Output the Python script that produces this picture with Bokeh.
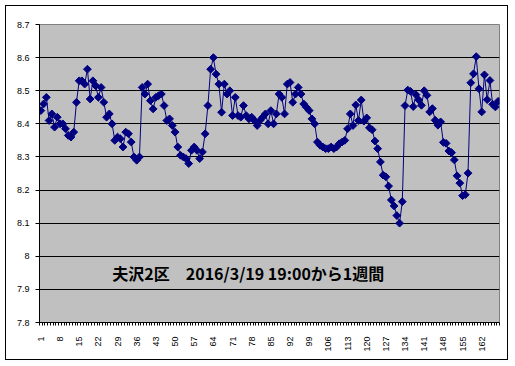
import numpy as np
from bokeh.plotting import figure
from bokeh.models import ColumnDataSource, FixedTicker, CustomJSTickFormatter, Label
from bokeh.embed import file_html
from bokeh.resources import INLINE

# hourly values, 1 week (168 points)
values = [
    8.44, 8.46, 8.48, 8.41, 8.43, 8.39, 8.42, 8.40, 8.40, 8.385,
    8.365, 8.36, 8.375, 8.465, 8.53, 8.53, 8.52, 8.565, 8.475, 8.53,
    8.515, 8.48, 8.51, 8.465, 8.42, 8.43, 8.40, 8.35, 8.36, 8.355,
    8.33, 8.375, 8.37, 8.345, 8.30, 8.29, 8.30, 8.51, 8.49, 8.52,
    8.47, 8.445, 8.48, 8.485, 8.49, 8.455, 8.41, 8.415, 8.395, 8.375,
    8.33, 8.305, 8.30, 8.295, 8.28, 8.32, 8.33, 8.32, 8.295, 8.315,
    8.37, 8.455, 8.565, 8.60, 8.55, 8.52, 8.435, 8.52, 8.49, 8.50,
    8.425, 8.48, 8.425, 8.42, 8.455, 8.425, 8.415, 8.42, 8.41, 8.395,
    8.41, 8.42, 8.43, 8.40, 8.44, 8.40, 8.43, 8.49, 8.48, 8.43,
    8.52, 8.525, 8.465, 8.49, 8.51, 8.49, 8.46, 8.45, 8.44, 8.415,
    8.40, 8.345, 8.335, 8.33, 8.325, 8.325, 8.33, 8.325, 8.33, 8.34,
    8.345, 8.35, 8.385, 8.43, 8.395, 8.457, 8.41, 8.472, 8.408, 8.418,
    8.388, 8.382, 8.348, 8.325, 8.285, 8.245, 8.24, 8.212, 8.17, 8.152,
    8.123, 8.10, 8.165, 8.455, 8.502, 8.498, 8.452, 8.488, 8.472, 8.456,
    8.50, 8.486, 8.436, 8.446, 8.411, 8.396, 8.406, 8.344, 8.341, 8.318,
    8.313, 8.291, 8.243, 8.221, 8.183, 8.186, 8.251, 8.524, 8.551, 8.603,
    8.506, 8.436, 8.548, 8.473, 8.531, 8.459, 8.451, 8.468,
]
hours = list(range(1, len(values) + 1))
x_tick_labels = list(range(1, len(values) + 1, 7))
y_ticks = [7.8, 7.9, 8.0, 8.1, 8.2, 8.3, 8.4, 8.5, 8.6, 8.7]
annotation = "夫沢2区　2016/3/19 19:00から1週間"

src = ColumnDataSource(dict(x=hours, y=values))

p = figure(
    frame_width=460, frame_height=298,
    x_range=(0.5, len(values) + 0.5), y_range=(7.8, 8.7),
    output_backend="svg", toolbar_location=None,
    min_border_left=33, min_border_right=8, min_border_top=18, min_border_bottom=37,
)
p.styles = {"border": "1px solid black", "margin": "5px"}
p.background_fill_color = "#C0C0C0"
p.border_fill_color = "white"
p.outline_line_color = "#808080"

p.line("x", "y", source=src, line_color="#000080", line_width=1)
p.scatter("x", "y", source=src, marker="square", angle=np.pi / 4, size=5.5,
          fill_color="#000080", line_color="#000080")

# y axis
p.yaxis.ticker = FixedTicker(ticks=y_ticks)
p.yaxis.formatter = CustomJSTickFormatter(code="return tick.toFixed(1).replace(/\\.0$/, '');")
p.yaxis.axis_line_color = "black"
p.yaxis.major_tick_line_color = "black"
p.yaxis.major_tick_out = 4
p.yaxis.major_tick_in = 0
p.yaxis.minor_tick_line_color = None
p.yaxis.major_label_text_font = "Liberation Sans"
p.yaxis.major_label_text_font_size = "9px"
p.yaxis.major_label_text_color = "black"
p.yaxis.major_label_standoff = 6

p.ygrid.ticker = FixedTicker(ticks=y_ticks)
p.ygrid.grid_line_color = "black"
p.ygrid.grid_line_width = 1
p.xgrid.grid_line_color = None

# x axis
p.xaxis.ticker = FixedTicker(ticks=x_tick_labels,
                             minor_ticks=[h + 0.5 for h in range(0, len(values) + 1)])
p.xaxis.major_tick_line_color = None
p.xaxis.minor_tick_line_color = "black"
p.xaxis.minor_tick_out = 3
p.xaxis.minor_tick_in = 0
p.xaxis.axis_line_color = "black"
p.xaxis.major_label_orientation = np.pi / 2
p.xaxis.major_label_text_font = "Liberation Sans"
p.xaxis.major_label_text_font_size = "9px"
p.xaxis.major_label_text_color = "black"
p.xaxis.major_label_standoff = 8

p.add_layout(Label(x=27.1, y=7.948, text=annotation, text_baseline="middle",
                   text_font="Noto Sans CJK JP", text_font_style="bold",
                   text_font_size="16px", text_color="black"))

open("out.html", "w").write(file_html(p, INLINE))
